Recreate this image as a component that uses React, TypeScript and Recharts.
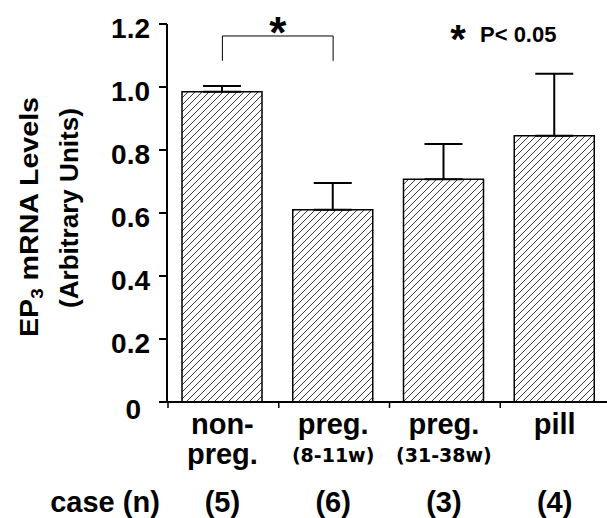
import React from 'react';
import { BarChart, Bar, XAxis, YAxis, ErrorBar, ReferenceLine, Customized } from 'recharts';

const categories = ['non-preg', 'preg-early', 'preg-late', 'pill'];
const mainLabels = [['non-', 'preg.'], ['preg.'], ['preg.'], ['pill']];
const subLabels = ['', '(8-11w)', '(31-38w)', ''];
const caseCounts = ['(5)', '(6)', '(3)', '(4)'];
const meanValues = [0.985, 0.61, 0.707, 0.845];
const semValues = [0.018, 0.085, 0.112, 0.197];
const yTicks = [0, 0.2, 0.4, 0.6, 0.8, 1.0, 1.2];
const bracketTop = 1.162;
const bracketFoot = 1.083;

const data = categories.map((c, i) => ({ cat: c, value: meanValues[i], err: [0, semValues[i]] }));

const FONT = '"Liberation Sans", Arial, Helvetica, sans-serif';
const CHART_W = 610;
const CHART_H = 518;
const Y_AXIS_W = 167;
const BAND = (CHART_W - Y_AXIS_W) / categories.length;

const YTick = (props: any) => {
  const { x, y, payload } = props;
  const v = payload.value;
  const isZero = v === 0;
  return (
    <text x={isZero ? x - 9 : x} y={isZero ? y + 17 : y + 14} textAnchor="end" fontFamily={FONT} fontWeight="bold" fontSize={28} fill="#000">
      {isZero ? '0' : v.toFixed(1)}
    </text>
  );
};

const XTick = (props: any) => {
  const { x, y, index } = props;
  const lines = mainLabels[index] || [];
  return (
    <g>
      <line x1={x - BAND / 2 + 1} y1={y} x2={x - BAND / 2 + 1} y2={y + 6} stroke="#000" strokeWidth={1.5} />
      {lines.map((l, k) => (
        <text key={k} x={x} y={y + 32 + k * 30} textAnchor="middle" fontFamily={FONT} fontWeight="bold" fontSize={29} fill="#000">{l}</text>
      ))}
      {subLabels[index] ? (
        <text x={x} y={y + 60} textAnchor="middle" fontFamily='"DejaVu Sans", sans-serif' fontWeight="bold" fontSize={19} fill="#000">{subLabels[index]}</text>
      ) : null}
      <text x={x} y={y + 110} textAnchor="middle" fontFamily={FONT} fontWeight="bold" fontSize={29} fill="#000">{caseCounts[index]}</text>
    </g>
  );
};

const StarLabel = (props: any) => {
  const vb = props.viewBox;
  if (!vb) return null;
  const cx = vb.x + (vb.width || 0) / 2;
  return (
    <text x={cx} y={vb.y + 12} textAnchor="middle" fontFamily={FONT} fontWeight="bold" fontSize={44} fill="#000">*</text>
  );
};

const Annotations = () => (
  <g>
    <g transform="translate(38,217) rotate(-90)">
      <text x={0} y={0} textAnchor="middle" fontFamily={FONT} fontWeight="bold" fontSize={26} fill="#000" textLength={240} lengthAdjust="spacingAndGlyphs">
        EP<tspan fontSize={17} dy={5}>3</tspan><tspan dy={-5}>{'  mRNA Levels'}</tspan>
      </text>
    </g>
    <g transform="translate(78,208) rotate(-90)">
      <text x={0} y={0} textAnchor="middle" fontFamily={FONT} fontWeight="bold" fontSize={26} fill="#000" textLength={200} lengthAdjust="spacingAndGlyphs">
        (Arbitrary Units)
      </text>
    </g>
    <text x={458} y={53} textAnchor="middle" fontFamily={FONT} fontWeight="bold" fontSize={40} fill="#000">*</text>
    <text x={480} y={42} fontFamily={FONT} fontWeight="bold" fontSize={22} fill="#000">P&lt; 0.05</text>
    <text x={105} y={512} textAnchor="middle" fontFamily={FONT} fontWeight="bold" fontSize={29} fill="#000">case (n)</text>
  </g>
);

export default function App() {
  return (
    <div style={{ position: 'absolute', left: 0, top: 0, width: 607, height: 518, overflow: 'hidden', background: '#fff' }}>
      <BarChart width={CHART_W} height={CHART_H} data={data} margin={{ top: 24, right: 0, left: 0, bottom: 0 }} barSize={80}>
        <defs>
          <pattern id="hatch" patternUnits="userSpaceOnUse" width={7} height={7}>
            <path d="M-1,1 l2,-2 M0,7 l7,-7 M6,8 l2,-2" stroke="#222" strokeWidth={0.9} />
          </pattern>
        </defs>
        <YAxis
          type="number"
          domain={[0, 1.2]}
          ticks={yTicks}
          width={Y_AXIS_W}
          axisLine={{ stroke: '#000', strokeWidth: 2 }}
          tickLine={{ stroke: '#000', strokeWidth: 2 }}
          tickSize={8}
          tickMargin={9}
          tick={<YTick />}
          interval={0}
        />
        <XAxis
          dataKey="cat"
          type="category"
          height={CHART_H - 402}
          axisLine={{ stroke: '#000', strokeWidth: 2 }}
          tickLine={false}
          tickSize={0}
          tickMargin={0}
          tick={<XTick />}
          interval={0}
        />
        <Bar dataKey="value" fill="url(#hatch)" stroke="#000" strokeWidth={1.5} isAnimationActive={false}>
          <ErrorBar dataKey="err" width={19} stroke="#000" strokeWidth={2} direction="y" />
        </Bar>
        <ReferenceLine
          segment={[{ x: categories[0], y: bracketTop }, { x: categories[1], y: bracketTop }]}
          stroke="#000"
          strokeWidth={1}
          ifOverflow="visible"
          label={<StarLabel />}
        />
        <ReferenceLine segment={[{ x: categories[0], y: bracketTop }, { x: categories[0], y: bracketFoot }]} stroke="#000" strokeWidth={1} ifOverflow="visible" />
        <ReferenceLine segment={[{ x: categories[1], y: bracketTop }, { x: categories[1], y: bracketFoot }]} stroke="#000" strokeWidth={1} ifOverflow="visible" />
        <Customized component={Annotations} />
      </BarChart>
    </div>
  );
}
